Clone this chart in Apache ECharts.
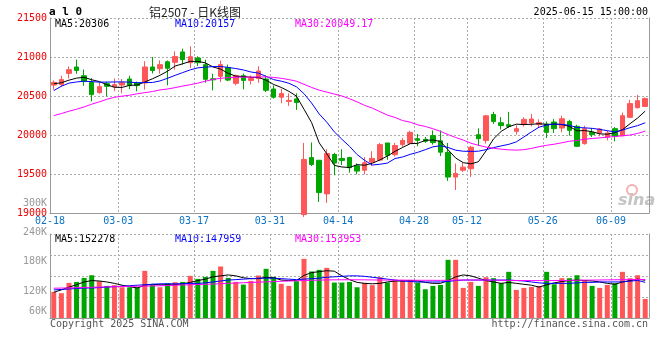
<!DOCTYPE html>
<html><head><meta charset="utf-8">
<script src="https://cdn.jsdelivr.net/npm/echarts@6/dist/echarts.min.js"></script>
<style>html,body{margin:0;padding:0;background:#fff}#c{width:660px;height:360px}</style>
</head><body><div id="c"></div>
<script>
const dates = ['02-18','02-19','02-20','02-21','02-24','02-25','02-26','02-27','02-28',
'03-03','03-04','03-05','03-06','03-07','03-10','03-11','03-12','03-13','03-14',
'03-17','03-18','03-19','03-20','03-21','03-24','03-25','03-26','03-27','03-28','03-31',
'04-01','04-02','04-03','04-07','04-08','04-09','04-10','04-11','04-14','04-15','04-16','04-17','04-18',
'04-21','04-22','04-23','04-24','04-25','04-28','04-29','04-30',
'05-06','05-07','05-08','05-09','05-12','05-13','05-14','05-15','05-16','05-19','05-20','05-21','05-22','05-23',
'05-26','05-27','05-28','05-29','05-30','06-03','06-04','06-05','06-06','06-09','06-10','06-11','06-12','06-13'];
const labelDates = ['02-18','03-03','03-17','03-31','04-14','04-28','05-12','05-26','06-09'];
const priceTicks = [19000, 19500, 20000, 20500, 21000, 21500];
const volTickLabels = [120000, 180000, 240000];
const volExtraLabels = ['300K', '60K'];

const opens = [20640,20645,20790,20872,20760,20675,20543,20658,20618,20640,
20718,20667,20667,20872,20850,20938,20932,21065,20927,20987,
20902,20720,20752,20864,20662,20760,20700,20724,20718,20590,
20484,20430,20463,18980,19710,19676,19245,19750,19699,19712,
19605,19548,19652,19678,19898,19748,19877,19895,19953,19945,
19992,19925,19778,19461,19548,19567,20004,19930,20262,20157,
20132,20047,20140,20153,20136,20140,20166,20089,20174,20111,
19889,20034,20026,19974,20081,19990,20226,20350,20366];
const closes = [20675,20710,20838,20827,20688,20518,20620,20624,20645,20671,
20635,20633,20872,20827,20902,20856,21005,20966,21004,20927,
20714,20707,20902,20704,20760,20700,20724,20820,20573,20484,
20531,20444,20416,19687,19622,19262,19763,19640,19674,19580,
19537,19644,19700,19877,19740,19865,19930,20034,19932,19920,
19903,19780,19461,19507,19588,19843,19953,20246,20174,20121,
20110,20081,20200,20205,20158,20034,20081,20208,20060,19855,
20081,20004,20077,20026,19985,20247,20403,20440,20467];
const highs = [20700,20760,20880,20966,20840,20730,20675,20684,20725,20718,
20760,20685,20946,21000,20957,20955,21072,21107,21137,21008,
20966,20785,20955,20903,20775,20788,20763,20881,20763,20636,
20593,20534,20534,19898,19905,19680,19818,19771,19818,19720,
19636,19716,19792,19898,19898,19898,19962,20055,20013,19975,
20059,20059,19898,19636,19648,19860,20085,20258,20297,20230,
20297,20125,20226,20271,20200,20174,20204,20247,20196,20132,
20119,20089,20089,20055,20102,20289,20451,20515,20480];
const lows = [20580,20620,20725,20785,20632,20432,20530,20495,20560,20535,
20588,20560,20582,20790,20786,20637,20838,20902,20859,20885,
20671,20572,20678,20691,20636,20585,20648,20669,20551,20466,
20407,20373,20322,18950,19602,19142,19130,19483,19615,19517,
19496,19496,19602,19665,19682,19725,19848,19886,19856,19898,
19877,19729,19411,19295,19524,19461,19860,19890,20142,20070,
20089,20005,20110,20110,20100,19962,20026,20034,19991,19847,
19877,19974,19983,19932,19919,19985,20217,20340,20360];

const ma5 = [20657,20670,20703,20729,20740,20708,20685,20645,20612,20610,
20637,20641,20680,20720,20765,20818,20884,20913,20944,20944,
20924,20872,20845,20790,20755,20750,20740,20738,20703,20648,
20610,20560,20499,20330,20160,19900,19760,19610,19590,19583,
19620,19612,19638,19680,19730,19790,19840,19889,19893,19932,
19936,19917,19810,19705,19646,19630,19657,19795,19951,20046,
20105,20139,20134,20137,20145,20136,20140,20134,20110,20053,
20057,20042,20015,20010,20030,20068,20145,20218,20306];
const ma10 = [20570,20625,20665,20680,20690,20684,20678,20678,20680,20681,
20678,20670,20673,20673,20693,20727,20765,20800,20835,20861,
20870,20877,20878,20866,20852,20834,20808,20793,20752,20710,
20690,20664,20618,20530,20410,20270,20165,20040,19945,19855,
19750,19675,19615,19625,19640,19698,19718,19752,19778,19812,
19848,19862,19840,19805,19792,19790,19792,19812,19838,19860,
19880,19912,19975,20040,20100,20128,20140,20136,20124,20096,
20092,20085,20072,20055,20040,20062,20094,20120,20157];
const ma30 = [20248,20275,20305,20330,20360,20395,20425,20458,20483,20498,
20510,20528,20543,20557,20578,20590,20607,20628,20645,20665,
20690,20713,20727,20735,20740,20742,20742,20744,20745,20738,
20727,20710,20690,20650,20610,20575,20550,20525,20500,20465,
20425,20380,20345,20300,20255,20225,20185,20165,20130,20110,
20080,20047,20005,19968,19935,19895,19868,19845,19830,19818,
19810,19806,19812,19828,19850,19868,19882,19900,19920,19930,
19945,19955,19963,19972,19980,19990,20000,20020,20049.17];

const volumes = [128300,125600,146900,148900,157200,162700,150400,140700,142100,137900,
137900,137900,171700,142700,137900,146200,148200,148900,161400,155200,
159300,171700,180700,157200,148900,143400,151000,162100,175900,159300,
144900,140700,150400,196500,170400,173800,177900,147600,147600,148900,
137900,146900,142100,158600,147600,153100,153100,153100,147600,133800,
140700,142700,194500,194500,136600,148900,140700,158600,156600,146200,
169700,132400,136600,138600,140700,169700,144100,156600,156600,162700,
153100,140700,136600,142700,146200,169700,156600,162700,113800];
const volMa5 = [127600,132400,138200,143000,148800,151700,150800,148800,145900,142100,
139200,136300,142100,144000,143000,143000,143000,145000,147900,151700,
154600,159400,161400,163300,161400,157500,155600,155600,158500,157500,
152700,151700,151700,162300,168100,170000,172000,171000,161400,153600,
147900,145900,145000,145900,148800,150800,150800,151700,150800,147900,
145900,145900,151700,159400,163300,161400,156600,151700,148800,145900,
147900,145900,144000,142100,138200,143000,146900,149800,151700,152700,
151700,150800,148800,145900,144000,148800,151700,154600,152278];
const volMa10 = [132400,133400,134300,135300,136300,136300,137200,138200,139200,140100,
141100,142100,143000,144000,145000,145000,145000,145000,145900,145900,
146900,148800,150800,152700,153600,154600,155600,156600,156600,156600,
155600,154600,153600,154600,155600,156600,158500,159400,160400,161400,
161400,160400,158500,156600,154600,152700,150800,149800,148800,148800,
148800,148800,149800,151700,152700,152700,152700,152700,152700,152700,
152700,151700,150800,148800,146900,145900,145900,145900,145900,146900,
147900,147900,148800,148800,148800,149000,150500,152000,147959];
const volMa30 = [135900,136200,136600,137000,137500,137800,138300,138600,139000,139500,
139700,140000,140300,140600,141000,141500,142200,142600,143000,143500,
144000,144600,145300,146000,146600,147200,147800,148400,149000,149600,
150200,150800,151300,151800,152200,152600,153000,153200,153300,153400,
153300,153200,153000,152800,152700,152600,152500,152400,152300,152200,
152200,152100,152300,152600,152800,152900,152800,152700,152500,152300,
152100,151900,151800,151700,151600,151600,151700,151900,152100,152300,
152500,152700,152900,153100,153300,153500,153700,153850,153953];

const RED = '#ff5757', GREEN = '#00a600';
const MONO = '"DejaVu Sans Mono", monospace';
const labelIdx = new Set(labelDates.map(d => dates.indexOf(d)));
const isLbl = (i) => labelIdx.has(i);
const candleData = dates.map((d, i) => [opens[i], closes[i], lows[i], highs[i]]);
const volData = volumes.map((v, i) => ({ value: v, itemStyle: { color: closes[i] >= opens[i] ? RED : GREEN } }));
const gridLine = { color: '#aaaaaa', type: [2, 2], width: 1 };
const frame = { color: '#999999', width: 1 };
const VMIN = 74500, VMAX = 247700;

const chart = echarts.init(document.getElementById('c'));
const txt = (text, x, y, fill, opts = {}) => ({
  type: 'text', x, y, silent: true,
  style: Object.assign({ text, x: 0, y: 0, fill, font: '10px ' + MONO, align: 'left', verticalAlign: 'middle' }, opts)
});
const lineSeries = (name, data, color, xi, yi) => ({
  name, type: 'line', data, xAxisIndex: xi, yAxisIndex: yi, showSymbol: false, symbol: 'none',
  lineStyle: { color, width: 1 }, itemStyle: { color }, silent: true, z: 5
});

chart.setOption({
  animation: false,
  backgroundColor: '#ffffff',
  grid: [
    { left: 50, top: 18, width: 599, height: 195 },
    { left: 50, top: 234, width: 599, height: 84 }
  ],
  xAxis: [
    { type: 'category', gridIndex: 0, data: dates, boundaryGap: true,
      axisLine: { show: true, lineStyle: frame }, axisTick: { show: false },
      axisLabel: { interval: isLbl, color: '#0b72c4', fontFamily: MONO, fontSize: 10, margin: 3, padding: [0, 7.6, 0, 0] },
      splitLine: { show: true, interval: isLbl, lineStyle: gridLine } },
    { type: 'category', gridIndex: 1, data: dates, boundaryGap: true,
      axisLine: { show: true, lineStyle: frame }, axisTick: { show: false },
      axisLabel: { show: false },
      splitLine: { show: true, interval: isLbl, lineStyle: gridLine } }
  ],
  yAxis: [
    { type: 'value', gridIndex: 0, position: 'left', min: priceTicks[0], max: priceTicks[priceTicks.length - 1], interval: 500,
      axisLine: { show: true, lineStyle: frame }, axisTick: { show: false },
      axisLabel: { color: '#ee0000', fontFamily: MONO, fontSize: 10, margin: 3, formatter: v => String(v), padding: [0, 0, 3, 0] },
      splitLine: { show: true, lineStyle: gridLine } },
    { type: 'value', gridIndex: 0, position: 'right', min: priceTicks[0], max: priceTicks[priceTicks.length - 1], interval: 500,
      axisLine: { show: true, lineStyle: frame }, axisTick: { show: false },
      axisLabel: { show: false }, splitLine: { show: false } },
    { type: 'value', gridIndex: 1, position: 'left', min: VMIN, max: VMAX, interval: (VMAX - VMIN) / 4,
      axisLine: { show: true, lineStyle: frame }, axisTick: { show: false },
      axisLabel: { show: false }, splitLine: { show: true, lineStyle: gridLine } },
    { type: 'value', gridIndex: 1, position: 'left', offset: 0, min: VMIN, max: VMAX,
      axisLine: { show: false }, axisTick: { show: false }, splitLine: { show: false },
      axisLabel: { color: '#999999', fontFamily: MONO, fontSize: 10, margin: 3, verticalAlign: 'bottom',
        customValues: volTickLabels, formatter: v => (v / 1000) + 'K' } },
    { type: 'value', gridIndex: 1, position: 'right', min: VMIN, max: VMAX,
      axisLine: { show: true, lineStyle: frame }, axisTick: { show: false },
      axisLabel: { show: false }, splitLine: { show: false } }
  ],
  series: [
    { name: 'K', type: 'candlestick', xAxisIndex: 0, yAxisIndex: 0, data: candleData, barWidth: 5, clip: true,
      itemStyle: { color: RED, color0: GREEN, borderColor: RED, borderColor0: GREEN, borderWidth: 1 }, silent: true },
    lineSeries('MA5', ma5, '#000000', 0, 0),
    lineSeries('MA10', ma10, '#0000ff', 0, 0),
    lineSeries('MA30', ma30, '#ff00ff', 0, 0),
    { name: 'VOL', type: 'bar', xAxisIndex: 1, yAxisIndex: 2, data: volData, barWidth: 5, silent: true },
    lineSeries('VMA5', volMa5, '#000000', 1, 2),
    lineSeries('VMA10', volMa10, '#0000ff', 1, 2),
    lineSeries('VMA30', volMa30, '#ff00ff', 1, 2)
  ],
  graphic: [
    txt('a l 0', 49, 12, '#000000', { font: 'bold 11px ' + MONO }),
    txt('铝2507 - 日K线图', 195, 12, '#222222', { font: '12px "Noto Sans CJK SC"', align: 'center' }),
    txt('2025-06-15 15:00:00', 648, 12, '#000000', { align: 'right' }),
    txt('MA5:' + ma5[ma5.length - 1], 55, 24, '#000000'),
    txt('MA10:' + ma10[ma10.length - 1], 175, 24, '#0000ff'),
    txt('MA30:' + ma30[ma30.length - 1], 295, 24, '#ff00ff'),
    txt('MA5:' + volMa5[volMa5.length - 1], 55, 239, '#000000'),
    txt('MA10:' + volMa10[volMa10.length - 1], 175, 239, '#0000ff'),
    txt('MA30:' + volMa30[volMa30.length - 1], 295, 239, '#ff00ff'),
    txt(volExtraLabels[0], 47, 203, '#999999', { align: 'right' }),
    txt(volExtraLabels[1], 47, 311, '#999999', { align: 'right' }),
    txt('Copyright 2025 SINA.COM', 50, 324, '#555555'),
    txt('http://finance.sina.com.cn', 648, 324, '#555555', { align: 'right' }),
    { type: 'circle', x: 632, y: 190, silent: true, shape: { r: 5 }, style: { fill: 'none', stroke: '#f2b0b0', lineWidth: 2 } },
    txt('sina', 618, 201, '#c4c4c4', { font: 'italic bold 16px "DejaVu Sans"' })
  ]
});
</script></body></html>
